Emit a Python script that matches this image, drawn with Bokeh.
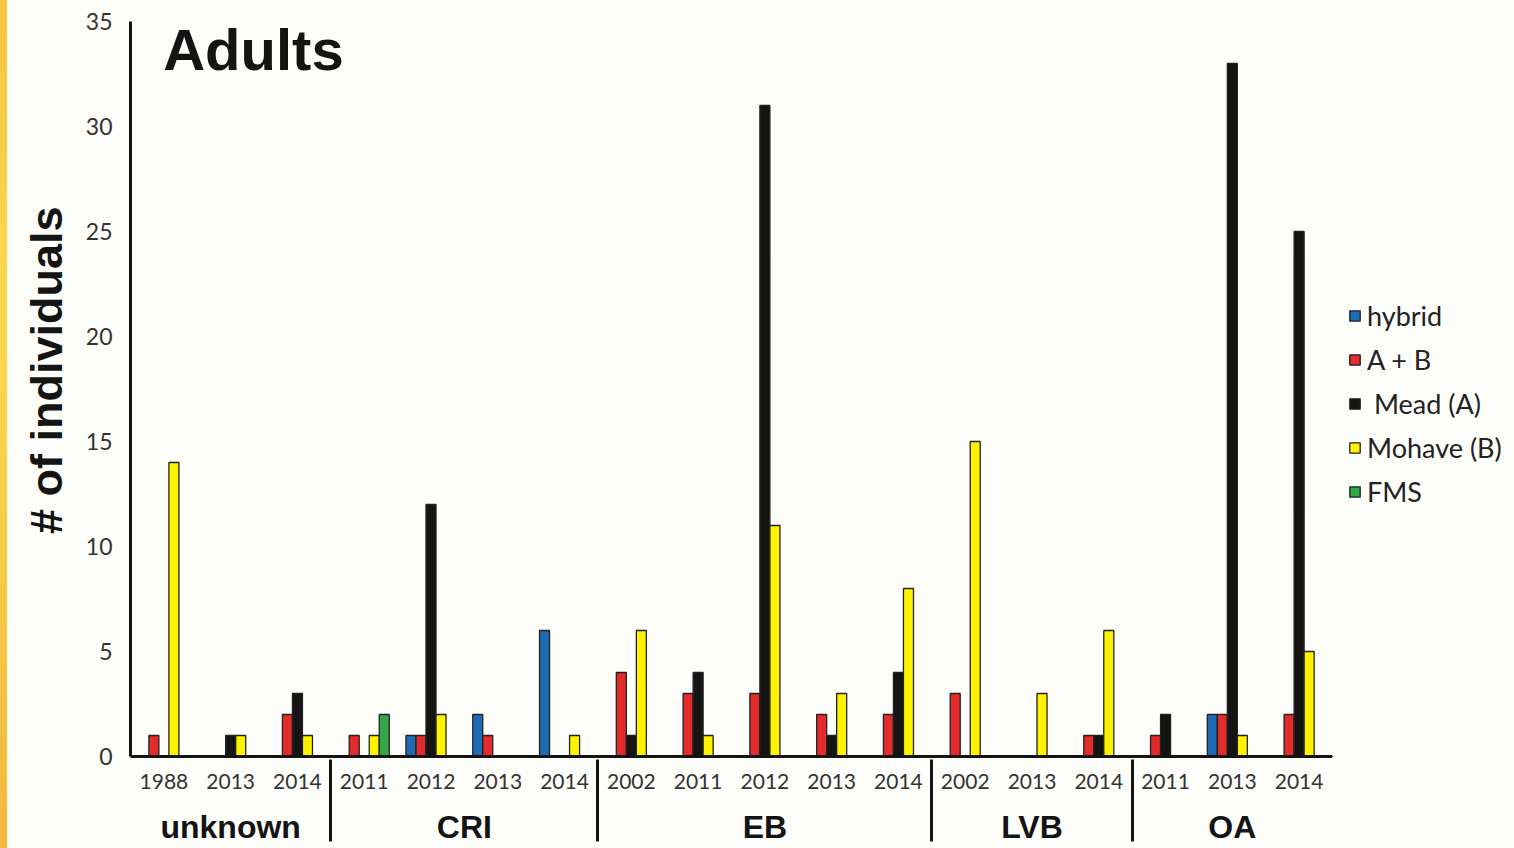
from bokeh.plotting import figure
from bokeh.models import (FactorRange, Range1d, ColumnDataSource, Legend,
                          LegendItem, Label, Div, FixedTicker)
from bokeh.transform import dodge
from bokeh.layouts import row
from bokeh.embed import file_html
from bokeh.resources import INLINE

# Sampling sites and survey years (one category per site/year pair)
sites = ["unknown"] * 3 + ["CRI"] * 4 + ["EB"] * 5 + ["LVB"] * 3 + ["OA"] * 3
years = ["1988", "2013", "2014",
         "2011", "2012", "2013", "2014",
         "2002", "2011", "2012", "2013", "2014",
         "2002", "2013", "2014",
         "2011", "2013", "2014"]

# Number of adult individuals per genetic assignment
hybrid   = [0, 0, 0,  0, 1, 2, 6,  0, 0, 0, 0, 0,  0, 0, 0,  0, 2, 0]
a_plus_b = [1, 0, 2,  1, 1, 1, 0,  4, 3, 3, 2, 2,  3, 0, 1,  1, 2, 2]
mead     = [0, 1, 3,  0, 12, 0, 0,  1, 4, 31, 1, 4,  0, 0, 1,  2, 33, 25]
mohave   = [14, 1, 1,  1, 2, 0, 1,  6, 1, 11, 3, 8,  15, 3, 6,  0, 1, 5]
fms      = [0, 0, 0,  2, 0, 0, 0,  0, 0, 0, 0, 0,  0, 0, 0,  0, 0, 0]

y_ticks = [0, 5, 10, 15, 20, 25, 30, 35]

BG = "#fdfdf9"
INK = "#141414"

factors = list(zip(sites, years))

p = figure(
    x_range=FactorRange(*factors, factor_padding=0, group_padding=0,
                        subgroup_padding=0, range_padding=0),
    y_range=Range1d(0, 35),
    width=1325, height=848,
    output_backend="svg", toolbar_location=None,
    min_border_left=123, min_border_right=0,
    min_border_top=21, min_border_bottom=92,
    background_fill_color=BG, border_fill_color=BG,
    outline_line_color=None,
)
p.grid.visible = False

series = [
    ("hybrid", hybrid, "#1c6bb3", -0.30),
    ("A + B", a_plus_b, "#e32b2b", -0.15),
    (" Mead (A)", mead, "#141414", 0.0),
    ("Mohave (B)", mohave, "#fff200", 0.15),
    ("FMS", fms, "#33a748", 0.30),
]

for name, vals, color, offset in series:
    cats = [f for f, v in zip(factors, vals) if v > 0]
    tops = [v for v in vals if v > 0]
    src = ColumnDataSource(dict(cat=cats, top=tops))
    p.vbar(x=dodge("cat", offset, range=p.x_range), top="top", bottom=0,
           width=0.15, source=src, fill_color=color,
           line_color="#222222", line_width=1.3)

# y axis
yax = p.yaxis[0]
yax.ticker = FixedTicker(ticks=y_ticks)
yax.axis_line_color = INK
yax.axis_line_width = 3
yax.major_tick_line_color = None
yax.major_tick_out = 0
yax.major_tick_in = 0
yax.minor_tick_line_color = None
yax.minor_tick_out = 0
yax.major_label_standoff = 18
yax.major_label_text_font = "Lato"
yax.major_label_text_font_size = "23px"
yax.major_label_text_color = "#333333"
yax.axis_label = "\u00a0\u00a0\u00a0# of individuals"
yax.axis_label_text_font = "Liberation Sans"
yax.axis_label_text_font_size = "45px"
yax.axis_label_text_font_style = "bold"
yax.axis_label_text_color = INK
yax.axis_label_standoff = 11

# x axis: years with site groups beneath
xax = p.xaxis[0]
xax.axis_line_color = INK
xax.axis_line_width = 3
xax.major_tick_line_color = None
xax.major_tick_out = 0
xax.major_tick_in = 0
xax.minor_tick_line_color = None
xax.minor_tick_out = 0
xax.major_label_standoff = 17
xax.major_label_text_font = "Lato"
xax.major_label_text_font_size = "21px"
xax.major_label_text_line_height = 1.0
xax.major_label_text_color = "#333333"
xax.group_text_font = "Liberation Sans"
xax.group_text_font_size = "32px"
xax.group_text_font_style = "bold"
xax.group_text_line_height = 1.0
xax.group_text_color = INK
xax.separator_line_color = INK
xax.separator_line_width = 3

# panel title
p.add_layout(Label(x=0.49, y=33.65, text="Adults",
                   text_font="Liberation Sans", text_font_size="58px",
                   text_font_style="bold", text_color=INK,
                   text_baseline="alphabetic", text_align="left"))

# legend panel to the right of the bars; each swatch renderer holds one
# off-range placeholder bar so the legend can take its colours
lg = figure(width=182, height=848, output_backend="svg", toolbar_location=None,
            x_range=Range1d(0, 1), y_range=Range1d(0, 1),
            x_axis_location=None, y_axis_location=None,
            min_border=0, background_fill_color=BG, border_fill_color=BG,
            outline_line_color=None)
lg.grid.visible = False
items = []
for name, vals, color, offset in series:
    swatch = lg.vbar(x=[-5.0], top=[-5.0], bottom=-6.0, width=0.1,
                     fill_color=color, line_color="#222222", line_width=1.3)
    items.append(LegendItem(label=name, renderers=[swatch]))

legend = Legend(items=items, location=(16, 248),
                label_text_font="Lato", label_text_font_size="27px",
                label_text_color="#222222", label_standoff=6,
                glyph_width=13, glyph_height=13, label_height=30,
                spacing=11, padding=0, margin=0,
                background_fill_alpha=0, border_line_color=None)
lg.add_layout(legend)

stripe = Div(width=7, height=848, margin=(0, 0, 0, 0), styles={
    "background": "linear-gradient(180deg, #f6c443 0%, #f9d952 35%, #f7cf4a 60%, #f2b83c 100%)"
})

layout = row(stripe, p, lg, spacing=0)
open("out.html", "w").write(file_html(layout, INLINE))
